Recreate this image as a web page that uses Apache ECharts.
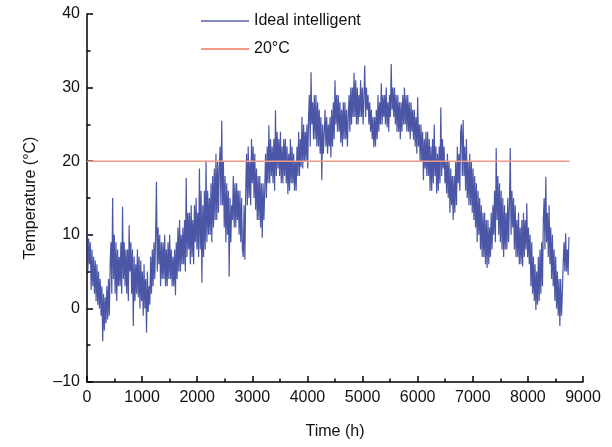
<!DOCTYPE html>
<html>
<head>
<meta charset="utf-8">
<script src="https://cdn.jsdelivr.net/npm/echarts@6/dist/echarts.min.js"></script>
<style>
  html, body { margin: 0; padding: 0; background: #fff; }
  #main { width: 612px; height: 447px; }
</style>
</head>
<body>
<div id="main"></div>
<script>
// 读图得到的逐段温度值 (每隔 stepHours 小时一个点)
const stepHours = 15
const seg1 = [10.5, 5, 9.5, 6, 9, 2.5, 8, 3, 7, 2, 6.5, 1, 6, 0.5, 5, 0, 4, -1, 3, -4.5, 2, -3, 1.5, -2,
  3, -1.5, 4, -1, 6, 9, 2, 15, 4, 10, 2, 9, 1, 8, 3, 7, 3, 9, 2, 13.8, 4, 9, 3, 8]
const seg2 = [2, 8, 1, 11.3, 5, 9, 2, 8, -2.4, 7, 1, 6, 2, 8, 1.5, 7, 0, 6.5, 1, 5, -1, 6, 0, 4,
  -3.3, 5, -0.5, 3, 0.5, 7, 2, 8, 3, 9, 4, 10, 17.2, 5, 11, 6, 10, 3, 9, 4, 9, 4, 10, 3]
const seg3 = [8, 3, 9, 4, 10, 4, 8, 3, 7, 3, 8, 1.8, 9, 4, 11, 5, 12, 5, 10, 6, 11, 6, 12, 5,
  17.7, 7, 13, 8, 13, 6, 14, 7, 12, 6, 14, 9, 15, 8, 13, 7, 19, 8, 16, 3.5, 14, 7, 16, 8]
const seg4 = [20.1, 9, 16, 10, 15, 10, 17, 9, 18, 11, 19, 12, 21, 12, 20, 13, 19, 22, 14, 25.5, 14, 20, 11, 18,
  9, 17, 10, 16, 4.3, 15, 9, 14, 12, 18, 11, 17, 11, 17, 12, 16, 10, 16, 9, 15, 8, 7, 14, 6.6]
const seg5 = [16, 21, 14, 22, 15, 20, 14, 23, 17, 22, 15, 21, 13.4, 19, 12, 18, 12, 18, 11, 17, 9.6, 17, 12, 16,
  21, 15, 22, 17, 24.9, 17, 23, 18, 22, 17, 23, 16, 26.9, 18, 24, 19, 23, 18, 24, 17, 22, 17, 23, 18]
const seg6 = [23, 17, 22, 15.5, 21, 16, 23, 17, 22, 17, 21, 16, 20, 16, 22, 18, 24, 18, 23, 19.2, 26, 19, 25, 20,
  24, 20, 25, 19, 26, 29, 22, 32.1, 25, 28, 23, 29, 23, 29, 22, 28, 22, 27, 21, 26, 17.4, 25, 21, 24]
const seg7 = [27, 22, 26, 21, 25, 22, 26, 20.5, 27, 22, 28, 23, 31, 25, 29, 24, 29, 24, 28, 22.5, 27, 22, 28, 23,
  28, 23, 27, 22, 26, 29, 24, 30, 25, 30, 26, 32, 26, 31, 25, 30, 25, 29, 26, 31, 26, 30, 25, 29]
const seg8 = [33, 26, 30, 27, 29, 25, 28, 24, 27, 23, 26, 21.9, 26, 22, 27, 23, 29, 24, 28, 25, 30.6, 25, 29, 26,
  29, 25, 30, 24.6, 28, 24, 29, 26, 33.2, 27, 30, 26, 30, 25, 29, 24, 29, 24, 28, 23, 28, 24, 29, 25]
const seg9 = [30, 25, 29, 24, 29, 24, 28, 23, 28, 24, 27, 22.9, 27, 22, 26, 21, 28.7, 22, 25, 20, 25, 20, 24, 17.4,
  23, 19, 24, 18, 24, 18, 23, 16, 22, 16, 23, 17, 25, 18, 22, 15.6, 21, 16, 22, 17, 27.3, 18, 23, 19]
const seg10 = [22, 17, 20, 15.6, 21, 15, 20, 13, 19, 14, 18, 12, 18, 13, 20, 14, 22, 17, 21, 16, 24, 25, 18, 25.6,
  18, 22, 16, 23, 15, 20, 14, 21, 14, 20, 13, 19, 12, 18, 11, 17, 9, 16, 10, 15, 8, 14, 7, 13]
const seg11 = [7, 13, 6, 12, 5.5, 12, 6, 11, 7, 13, 8, 14, 10, 16, 9, 21.8, 12, 18, 10, 17, 9, 16, 8, 15,
  7, 14, 8, 13, 8, 15, 9, 14, 21.8, 10, 16, 11, 15, 8, 14, 7, 12, 7, 13, 6, 11, 6, 12, 5.7]
const seg12 = [13, 7, 12, 8, 14.3, 7, 11, 6, 10, 3, 9, 2, 7, 1, 6, -0.2, 5, 0.5, 7, 1, 8, 2, 9, 3,
  12, 15, 8, 17.9, 9, 13, 7, 14, 6, 11, 4, 10, 3, 8, 1, 7, 0, 5, -1, 4, -2.4, 4, -1, 2,
  6, 9, 5, 10.2, 5, 8, 4.5, 9.7]

// 20°C 参考线
const refHours = [0, 8760]
const refTemp = [20, 20]

const xTicks = [0, 1000, 2000, 3000, 4000, 5000, 6000, 7000, 8000, 9000]
const yTicks = [-10, 0, 10, 20, 30, 40]

const temps = [].concat(seg1, seg2, seg3, seg4, seg5, seg6, seg7, seg8, seg9, seg10, seg11, seg12)
const tempData = temps.map((v, i) => [i * stepHours, v])
const refData = refHours.map((h, i) => [h, refTemp[i]])

const myChart = echarts.init(document.getElementById('main'))
const font = 'Liberation Sans, Arial, sans-serif'

const option = {
  animation: false,
  backgroundColor: '#fff',
  grid: { left: 87, right: 29, top: 14, bottom: 65 },
  legend: {
    orient: 'vertical',
    left: 196,
    top: 8,
    icon: 'rect',
    itemWidth: 48,
    itemHeight: 2,
    itemGap: 12,
    textStyle: { fontFamily: font, fontSize: 16, color: '#111' },
    data: ['Ideal intelligent', '20°C']
  },
  xAxis: {
    type: 'value',
    min: xTicks[0],
    max: xTicks[xTicks.length - 1],
    interval: 1000,
    name: 'Time (h)',
    nameLocation: 'middle',
    nameGap: 42,
    nameTextStyle: { fontFamily: font, fontSize: 16, color: '#111' },
    axisLine: { onZero: false, lineStyle: { color: '#000', width: 1.5 } },
    axisTick: { inside: true, length: 6, lineStyle: { color: '#000', width: 1.5 } },
    minorTick: { show: true, splitNumber: 2, length: 3.5, lineStyle: { color: '#000', width: 1.5 } },
    axisLabel: {
      fontFamily: font, fontSize: 16, color: '#111', margin: 8,
      formatter(v) { return String(v) }
    },
    splitLine: { show: false }
  },
  yAxis: {
    type: 'value',
    min: yTicks[0],
    max: yTicks[yTicks.length - 1],
    interval: 10,
    name: 'Temperature (°C)',
    nameLocation: 'middle',
    nameGap: 48,
    nameTextStyle: { fontFamily: font, fontSize: 16, color: '#111' },
    axisLine: { show: true, onZero: false, lineStyle: { color: '#000', width: 1.5 } },
    axisTick: { show: true, inside: true, length: 6, lineStyle: { color: '#000', width: 1.5 } },
    minorTick: { show: true, splitNumber: 2, length: 3.5, lineStyle: { color: '#000', width: 1.5 } },
    axisLabel: {
      fontFamily: font, fontSize: 16, color: '#111', margin: 7,
      formatter(v) { return v < 0 ? '\u2013' + Math.abs(v) : String(v) }
    },
    splitLine: { show: false }
  },
  series: [
    {
      name: 'Ideal intelligent',
      type: 'line',
      symbol: 'none',
      sampling: null,
      data: tempData,
      lineStyle: { color: '#2c3a96', width: 1.2, opacity: 0.85 },
      itemStyle: { color: '#8089c6' },
      z: 2
    },
    {
      name: '20°C',
      type: 'line',
      symbol: 'none',
      data: refData,
      lineStyle: { color: '#f19a86', width: 1.5 },
      itemStyle: { color: '#f19a86' },
      z: 3
    }
  ]
}
myChart.setOption(option)
</script>
</body>
</html>
